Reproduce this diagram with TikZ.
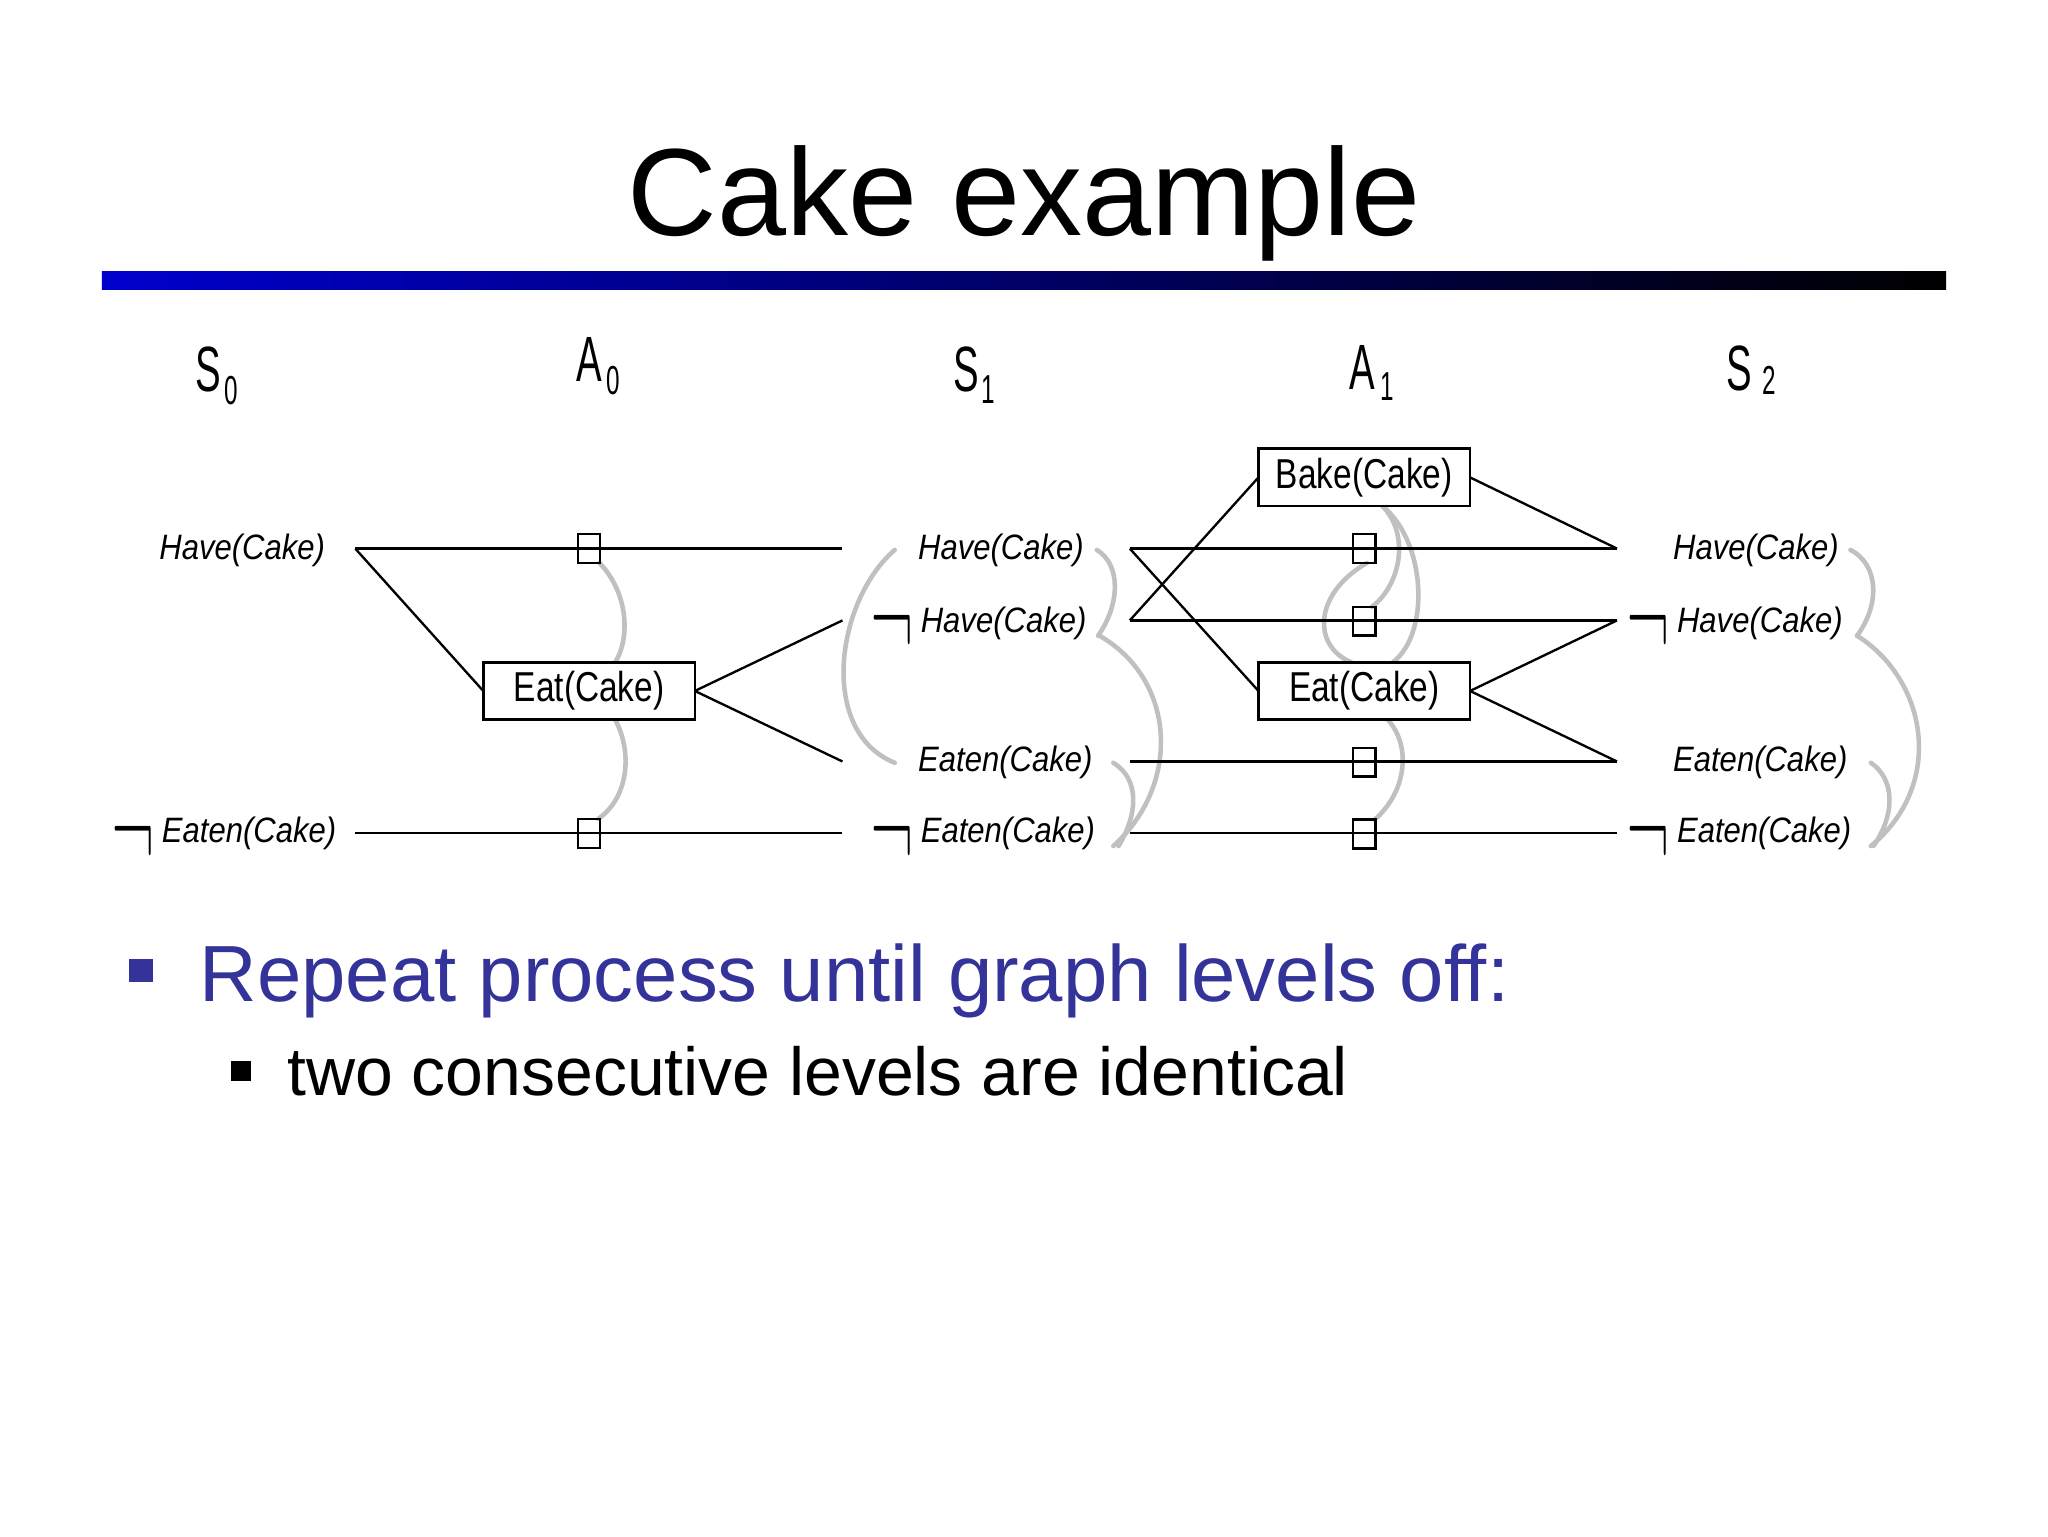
\documentclass[tikz,border=0pt]{standalone}
\usepackage{fontspec}
\setmainfont{Liberation Sans}
\newfontfamily\boxfont[FakeStretch=0.8]{Liberation Sans}
\newfontfamily\labfont[FakeStretch=0.88]{Liberation Sans}
\newfontfamily\headfont[FakeStretch=0.6]{Liberation Sans}
\newfontfamily\negfont{Latin Modern Roman}
\definecolor{bulletblue}{RGB}{51,51,153}
\definecolor{mutexgray}{RGB}{192,192,192}
\definecolor{barblue}{RGB}{0,0,205}
\newcommand{\negsign}{\llap{{\negfont\upshape\fontsize{44}{44}\selectfont\raisebox{-25pt}{\scalebox{1}[2.4]{¬}}}\hspace{6pt}}}
\begin{document}
\begin{tikzpicture}[x=1pt,y=-1pt,
  every node/.style={inner sep=0pt, outer sep=0pt},
  lab/.style={anchor=base west, font=\labfont\itshape\fontsize{27}{27}\selectfont},
  act/.style={draw, fill=white, line width=2pt, minimum width=162pt, minimum height=44pt, font=\boxfont\fontsize{32}{32}\selectfont},
  noop/.style={draw, line width=1.8pt, minimum width=17pt, minimum height=22pt},
  link/.style={line width=1.8pt},
  mutex/.style={draw=mutexgray, line width=3.5pt, line cap=round},
  hdr/.style={anchor=base west, font=\headfont\fontsize{49}{49}\selectfont},
]
\fill[white] (0,0) rectangle (1568,1176);
\useasboundingbox (0,0) rectangle (1568,1176);

% title and bar
\node[anchor=base, font=\fontsize{95}{95}\selectfont] (title) at (784,180) {Cake example};
\shade[left color=barblue, right color=black] (78,208) rectangle (1490,222);

% headers
\node[hdr] (hs0) at (150,300) {S\kern2pt\raisebox{-10pt}{\fontsize{31}{31}\selectfont 0}};
\node[hdr] (ha0) at (441,292) {A\kern4pt\raisebox{-10pt}{\fontsize{31}{31}\selectfont 0}};
\node[hdr] (hs1) at (730,300) {S\kern2pt\raisebox{-9pt}{\fontsize{31}{31}\selectfont 1}};
\node[hdr] (ha1) at (1033,298) {A\kern4pt\raisebox{-9pt}{\fontsize{31}{31}\selectfont 1}};
\node[hdr] (hs2) at (1322,299) {S\kern8pt\raisebox{-3pt}{\fontsize{31}{31}\selectfont 2}};

% literal labels
\node[lab] (s0h)  at (122,428) {Have(Cake)};
\node[lab] (s0ne) at (124,645) {\negsign Eaten(Cake)};
\node[lab] (s1h)  at (703,428) {Have(Cake)};
\node[lab] (s1nh) at (705,484) {\negsign Have(Cake)};
\node[lab] (s1e)  at (703,591) {Eaten(Cake)};
\node[lab] (s1ne) at (705,645) {\negsign Eaten(Cake)};
\node[lab] (s2h)  at (1281,428) {Have(Cake)};
\node[lab] (s2nh) at (1284,484) {\negsign Have(Cake)};
\node[lab] (s2e)  at (1281,591) {Eaten(Cake)};
\node[lab] (s2ne) at (1284,645) {\negsign Eaten(Cake)};

% ports
\coordinate (p0h) at (272,420);
\coordinate (p0ne) at (272,638);
\coordinate (q1h) at (645,420);
\coordinate (q1nh) at (645,475);
\coordinate (q1e) at (645,583);
\coordinate (q1ne) at (645,638);
\coordinate (p1h) at (865,420);
\coordinate (p1nh) at (865,475);
\coordinate (p1e) at (865,583);
\coordinate (p1ne) at (865,638);
\coordinate (q2h) at (1238,420);
\coordinate (q2nh) at (1238,475);
\coordinate (q2e) at (1238,583);
\coordinate (q2ne) at (1238,638);

% action and no-op nodes (positions)
\node[act] (eat0) at (451,529) {Eat(Cake)};
\node[act] (bake1) at (1044.5,365.5) {Bake(Cake)};
\node[act] (eat1) at (1044.5,529) {Eat(Cake)};
\node[noop] (n0h) at (451,420) {};
\node[noop] (n0ne) at (451,638) {};
\node[noop] (n1h) at (1044.5,420) {};
\node[noop] (n1nh) at (1044.5,475.5) {};
\node[noop] (n1e) at (1044.5,583.5) {};
\node[noop] (n1ne) at (1044.5,638.5) {};

% mutex arcs
\draw[mutex] ([xshift=8pt]n0h.south) .. controls (482,455) and (482,490) .. ([xshift=20pt]eat0.north);
\draw[mutex] ([xshift=20pt]eat0.south) .. controls (484,575) and (482,610) .. ([xshift=7pt]n0ne.north);
\draw[mutex] ([xshift=-18pt]s1h.west) .. controls (640,460) and (626,560) .. ([xshift=-18pt]s1e.west);
\draw[mutex] ([xshift=10pt]s1h.east) .. controls (858,432) and (858,462) .. ([xshift=9pt]s1nh.east);
\draw[mutex] ([xshift=10pt]s1nh.east) .. controls (900,520) and (905,600) .. ([xshift=14pt]s1ne.east);
\draw[mutex] ([xshift=16pt]s1e.east) .. controls (872,596) and (872,622) .. ([xshift=18pt]s1ne.east);
\draw[mutex] ([xshift=9pt]s2h.east) .. controls (1438,432) and (1440,462) .. ([xshift=11pt]s2nh.east);
\draw[mutex] ([xshift=11pt]s2nh.east) .. controls (1475,520) and (1490,600) .. ([xshift=15pt]s2ne.east);
\draw[mutex] ([xshift=18pt]s2e.east) .. controls (1450,596) and (1452,622) .. ([xshift=17pt]s2ne.east);
\draw[mutex] ([xshift=14pt]bake1.south) .. controls (1092,415) and (1095,485) .. ([xshift=22pt]eat1.north);
\draw[mutex] ([xshift=2pt]n1h.south) .. controls (1005,455) and (1005,495) .. ([xshift=-10pt]eat1.north);
\draw[mutex] ([xshift=14pt]bake1.south) .. controls (1080,410) and (1072,448) .. ([xshift=6pt]n1nh.north);
\draw[mutex] ([xshift=18pt]eat1.south) .. controls (1080,570) and (1078,605) .. ([xshift=8pt]n1ne.north);

% links
\draw[link] (p0h) -- (q1h);
\draw[link] (p0ne) -- (q1ne);
\draw[link] (p0h) -- (eat0.west);
\draw[link] (eat0.east) -- (q1nh);
\draw[link] (eat0.east) -- (q1e);
\draw[link] (p1h) -- (q2h);
\draw[link] (p1nh) -- (q2nh);
\draw[link] (p1e) -- (q2e);
\draw[link] (p1ne) -- (q2ne);
\draw[link] (p1h) -- (eat1.west);
\draw[link] (p1nh) -- (bake1.west);
\draw[link] (bake1.east) -- (q2h);
\draw[link] (eat1.east) -- (q2nh);
\draw[link] (eat1.east) -- (q2e);

% redraw boxes and squares on top of the arcs and links
\node[act] at (eat0) {Eat(Cake)};
\node[act] at (bake1) {Bake(Cake)};
\node[act] at (eat1) {Eat(Cake)};
\foreach \n in {n0h,n0ne,n1h,n1nh,n1e,n1ne}{\draw[line width=1.8pt] (\n.south west) rectangle (\n.north east);}

% bullets
\fill[bulletblue] (99,734) rectangle (117,752);
\node[anchor=base west, text=bulletblue, font=\fontsize{61}{61}\selectfont] (b1) at (153,766.6) {Repeat process until graph levels off:};
\fill[black] (177,812) rectangle (192,828);
\node[anchor=base west, font=\fontsize{52}{52}\selectfont] (b2) at (220,839) {two consecutive levels are identical};
\end{tikzpicture}
\end{document}
